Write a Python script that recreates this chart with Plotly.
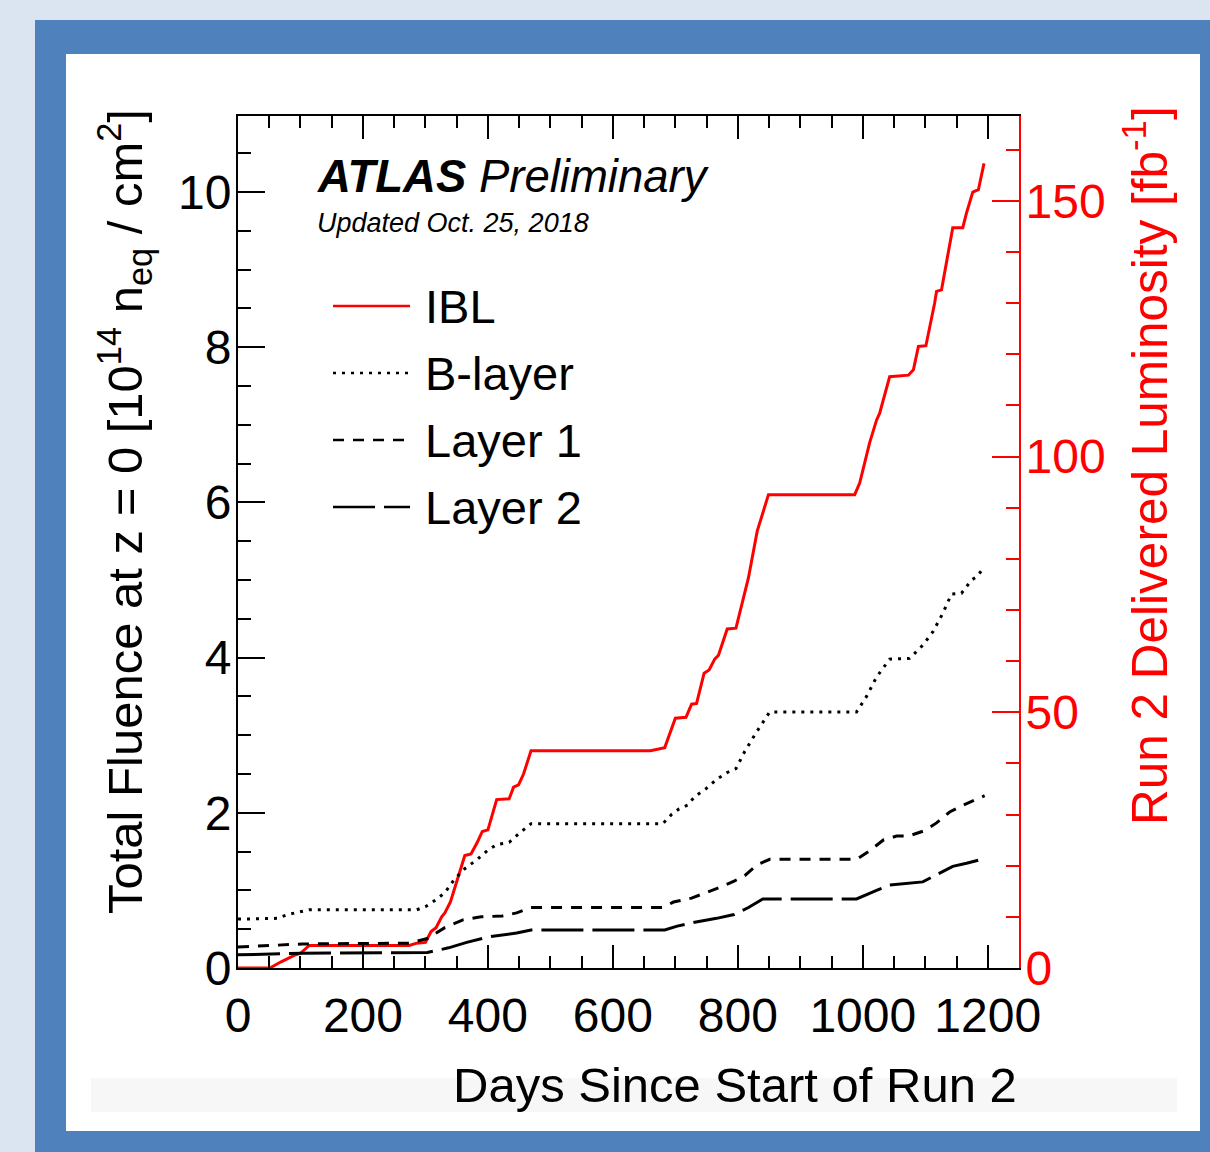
import plotly.graph_objects as go

# ---------------- data ----------------
ibl_days = [0, 51, 69, 89, 100, 114, 274, 286, 300, 309, 317, 326, 331, 340, 363, 373, 383, 391, 400, 414,
            434, 441, 449, 457, 469, 660, 683, 700, 717, 726, 734, 746, 754, 763, 769, 783, 797, 817, 831, 849,
            987, 995, 1011, 1022, 1027, 1043, 1073, 1081, 1089, 1101, 1115, 1118, 1126, 1134, 1144, 1160, 1166,
            1176, 1185, 1194]
ibl_fluence = [0, 0, 0.08, 0.16, 0.19, 0.29, 0.29, 0.32, 0.33, 0.47, 0.52, 0.66, 0.71, 0.85, 1.45, 1.47, 1.62,
               1.76, 1.78, 2.17, 2.18, 2.33, 2.36, 2.50, 2.80, 2.80, 2.84, 3.22, 3.23, 3.40, 3.41, 3.80, 3.84,
               3.98, 4.03, 4.37, 4.38, 5.03, 5.63, 6.10, 6.10, 6.25, 6.77, 7.06, 7.15, 7.62, 7.64, 7.71, 8.01,
               8.02, 8.57, 8.72, 8.74, 9.12, 9.54, 9.54, 9.73, 10.0, 10.03, 10.37]

blayer_days = [0, 63, 80, 103, 114, 286, 300, 317, 331, 346, 363, 383, 400, 414, 434, 451, 469, 680, 694, 706,
               720, 731, 749, 766, 783, 797, 811, 829, 851, 990, 1006, 1022, 1043, 1075, 1096, 1112, 1128, 1142,
               1158, 1174, 1182, 1195]
blayer_fluence = [0.63, 0.64, 0.69, 0.73, 0.75, 0.75, 0.79, 0.88, 0.97, 1.14, 1.28, 1.40, 1.52, 1.59, 1.62, 1.74,
                  1.86, 1.86, 1.98, 2.05, 2.10, 2.21, 2.31, 2.43, 2.52, 2.57, 2.79, 3.03, 3.30, 3.30, 3.50, 3.75,
                  3.98, 3.99, 4.16, 4.33, 4.57, 4.82, 4.83, 5.0, 5.04, 5.17]

layer1_days = [0, 103, 274, 303, 331, 360, 389, 423, 446, 469, 680, 697, 726, 749, 771, 794, 811, 831, 851, 990,
               1009, 1033, 1054, 1073, 1099, 1118, 1139, 1161, 1195]
layer1_fluence = [0.27, 0.31, 0.32, 0.38, 0.52, 0.62, 0.66, 0.67, 0.71, 0.78, 0.78, 0.85, 0.90, 0.97, 1.04, 1.12,
                  1.19, 1.33, 1.40, 1.40, 1.50, 1.65, 1.70, 1.70, 1.77, 1.87, 2.01, 2.10, 2.22]

layer2_days = [0, 103, 303, 337, 366, 400, 446, 469, 683, 703, 731, 766, 794, 817, 840, 990, 1022, 1043, 1096,
               1118, 1144, 1166, 1195]
layer2_fluence = [0.17, 0.19, 0.20, 0.26, 0.33, 0.40, 0.45, 0.49, 0.49, 0.54, 0.59, 0.64, 0.69, 0.78, 0.89, 0.89,
                  1.0, 1.07, 1.11, 1.20, 1.31, 1.35, 1.41]

series_names = ["IBL", "B-layer", "Layer 1", "Layer 2"]
x_ticks = [0, 200, 400, 600, 800, 1000, 1200]
y_ticks = [0, 2, 4, 6, 8, 10]
y2_ticks = [0, 50, 100, 150]

# ---------------- figure geometry ----------------
W, H = 1210, 1152
L, R, T, B = 238, 1019, 116, 968
FONT = "Liberation Sans, Arial, Helvetica, sans-serif"
RED = "#ff0000"
BLUE = "#4f81bd"


def px(xp):
    return (xp - L) / (R - L)


def py(yp):
    return (B - yp) / (B - T)


styles = [
    dict(color=RED, width=3, dash="solid"),
    dict(color="black", width=3, dash="3px,6px"),
    dict(color="black", width=3, dash="11px,9px"),
    dict(color="black", width=3, dash="42px,9px"),
]

fig = go.Figure()
for name, xs, ys, st in zip(series_names,
                            [ibl_days, blayer_days, layer1_days, layer2_days],
                            [ibl_fluence, blayer_fluence, layer1_fluence, layer2_fluence],
                            styles):
    fig.add_trace(go.Scatter(x=xs, y=ys, mode="lines", name=name, line=st, showlegend=False,
                             yaxis="y"))

# invisible trace to activate right axis
fig.add_trace(go.Scatter(x=[0], y=[0], mode="markers", marker=dict(opacity=0), showlegend=False,
                         hoverinfo="skip", yaxis="y2"))

shapes = []
# decorative frame
shapes.append(dict(type="rect", xref="paper", yref="paper", x0=px(35), x1=px(1230), y0=py(20), y1=py(1160),
                   fillcolor=BLUE, line=dict(width=0), layer="below"))
shapes.append(dict(type="rect", xref="paper", yref="paper", x0=px(66), x1=px(1200), y0=py(54), y1=py(1131),
                   fillcolor="white", line=dict(width=0), layer="below"))
shapes.append(dict(type="rect", xref="paper", yref="paper", x0=px(91), x1=px(1177), y0=py(1078), y1=py(1112),
                   fillcolor="#f7f7f7", line=dict(width=0), layer="below"))

# manual legend
legend_y = [306, 373, 440, 507]
annotations = []
for name, st, ly in zip(series_names, styles, legend_y):
    shapes.append(dict(type="line", xref="paper", yref="paper", x0=px(333), x1=px(410), y0=py(ly), y1=py(ly),
                       line=dict(color=st["color"], width=2.5, dash=st["dash"])))
    annotations.append(dict(xref="paper", yref="paper", x=px(423), y=py(ly), xanchor="left", yanchor="middle",
                            text=name, showarrow=False, font=dict(family=FONT, size=47, color="black")))

annotations += [
    dict(xref="paper", yref="paper", x=px(315), y=py(176), xanchor="left", yanchor="middle",
         text="<b><i>ATLAS</i></b> <i>Preliminary</i>", showarrow=False,
         font=dict(family=FONT, size=45.5, color="black")),
    dict(xref="paper", yref="paper", x=px(315), y=py(223), xanchor="left", yanchor="middle",
         text="<i>Updated Oct. 25, 2018</i>", showarrow=False,
         font=dict(family=FONT, size=27, color="black")),
    dict(xref="paper", yref="paper", x=px(124), y=py(512), xanchor="center", yanchor="middle", textangle=-90,
         text="Total Fluence at z = 0 [10<sup>14</sup> n<sub>eq</sub> / cm<sup>2</sup>]", showarrow=False,
         font=dict(family=FONT, size=49, color="black")),
    dict(xref="paper", yref="paper", x=px(1146), y=py(466), xanchor="center", yanchor="middle", textangle=-90,
         text="Run 2 Delivered Luminosity [fb<sup>-1</sup>]", showarrow=False,
         font=dict(family=FONT, size=49.5, color=RED)),
    dict(xref="paper", yref="paper", x=px(1019), y=py(1085), xanchor="right", yanchor="middle",
         text="Days Since Start of Run 2", showarrow=False,
         font=dict(family=FONT, size=49, color="black")),
]

fig.update_layout(
    width=W, height=H,
    margin=dict(l=L, r=W - R, t=T, b=H - B, pad=0),
    paper_bgcolor="#dbe5f1",
    plot_bgcolor="white",
    font=dict(family=FONT, size=48, color="black"),
    showlegend=False,
    shapes=shapes,
    annotations=annotations,
    xaxis=dict(range=[0, 1250], tickvals=x_ticks, ticktext=[str(v) for v in x_ticks],
               showgrid=False, zeroline=False, showline=True, linecolor="black", linewidth=2,
               mirror="ticks", ticks="inside", ticklen=23, tickwidth=2, tickcolor="black",
               tickfont=dict(family=FONT, size=48, color="black"), ticklabelstandoff=4,
               minor=dict(ticks="inside", dtick=50, tick0=0, ticklen=12, tickwidth=2, tickcolor="black",
                          showgrid=False)),
    yaxis=dict(range=[0, 10.98], tickvals=y_ticks, ticktext=[str(v) for v in y_ticks],
               showgrid=False, zeroline=False, showline=True, linecolor="black", linewidth=2,
               ticks="inside", ticklen=27, tickwidth=2, tickcolor="black",
               tickfont=dict(family=FONT, size=48, color="black"), ticklabelstandoff=-5,
               minor=dict(ticks="inside", dtick=0.5, tick0=0, ticklen=13, tickwidth=2, tickcolor="black",
                          showgrid=False)),
    yaxis2=dict(range=[0, 166.6], overlaying="y", side="right", tickvals=y2_ticks,
                ticktext=[str(v) for v in y2_ticks],
                showgrid=False, zeroline=False, showline=True, linecolor=RED, linewidth=2,
                ticks="inside", ticklen=27, tickwidth=2, tickcolor=RED,
                tickfont=dict(family=FONT, size=48, color=RED), ticklabelstandoff=-5,
                minor=dict(ticks="inside", dtick=10, tick0=0, ticklen=13, tickwidth=2, tickcolor=RED,
                           showgrid=False)),
)

fig.write_html("out.html")
